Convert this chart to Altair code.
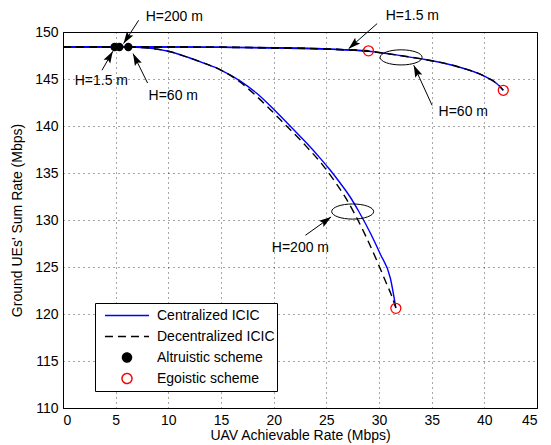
import math
import altair as alt
import pandas as pd

FONT = "Liberation Sans"
W, H = 474, 376
XMIN, XMAX, YMIN, YMAX = 0, 45, 110, 150

# ---- curve data ----
h15_x = [0, 4.9, 10, 15, 20, 25, 29.0]
h15_y = [148.4, 148.4, 148.4, 148.37, 148.3, 148.18, 148.0]

h60_x = [0, 6.2, 10, 15, 20, 25, 29.0, 32.0, 34.5, 37.5, 40.0, 41.2, 41.8]
h60_y = [148.4, 148.4, 148.4, 148.38, 148.33, 148.2, 147.95, 147.5, 147.05, 146.3, 145.3, 144.5, 143.8]

h200c_x = [0, 5.35, 7, 8.6, 10, 11.78, 13.3, 14.94, 16.84, 18.42, 20.0, 21.59, 23.17, 24.43, 25.38,
           26.33, 27.28, 28.07, 29.19, 30.13, 31.08, 31.6]
h200c_y = [148.4, 148.4, 148.37, 148.23, 147.95, 147.34, 146.72, 145.98, 144.78, 143.45, 141.78, 139.97,
           138.13, 136.56, 135.29, 133.91, 132.42, 130.93, 128.59, 126.35, 123.8, 120.64]

h200d_x = [0, 5.35, 7, 8.6, 10, 11.78, 13.3, 14.94, 16.84, 18.1, 19.37, 20.64, 22.85, 24.75, 25.86,
           26.81, 27.76, 28.71, 29.82, 30.61, 31.18, 31.6]
h200d_y = [148.4, 148.4, 148.37, 148.23, 147.95, 147.34, 146.72, 145.98, 144.65, 143.45, 142.1, 140.66,
           138.13, 135.71, 134.01, 132.41, 130.5, 128.37, 125.61, 123.5, 122.0, 120.64]

altru_x = [4.9, 5.35, 6.2]
altru_y = [148.4, 148.4, 148.4]
ego_x = [29.0, 41.8, 31.6]
ego_y = [148.0, 143.8, 120.6]

legend_names = ["Centralized ICIC", "Decentralized ICIC", "Altruistic scheme", "Egoistic scheme"]

# ---- annotations ----
label_text = ["H=200 m", "H=1.5 m", "H=60 m", "H=1.5 m", "H=60 m", "H=200 m"]
label_x = [10.57, 3.64, 10.47, 33.17, 38.0, 22.54]
label_y = [151.6, 144.76, 143.2, 151.75, 141.46, 126.99]

arrow_x0 = [7.18, 3.70, 8.03, 29.82, 35.04, 23.01]
arrow_y0 = [151.24, 145.93, 144.57, 150.89, 142.2, 128.37]
arrow_x1 = [5.75, 4.73, 6.65, 27.12, 33.3, 25.45]
arrow_y1 = [148.77, 147.95, 147.70, 148.23, 146.46, 130.32]

ellipse_x = [27.5, 32.1]
ellipse_y = [130.9, 147.3]


def curve_df(parts):
    rows = []
    for name, xs_, ys_ in parts:
        for i, (x, y) in enumerate(zip(xs_, ys_)):
            rows.append({"curve": name, "i": i, "x": x, "y": y})
    return pd.DataFrame(rows)


cent = curve_df([("h15", h15_x, h15_y), ("h60", h60_x, h60_y), ("h200", h200c_x, h200c_y)])
decent = curve_df([("h15", h15_x, h15_y), ("h60", h60_x, h60_y), ("h200", h200d_x, h200d_y)])

xs = alt.Scale(domain=[XMIN, XMAX], nice=False, zero=False)
ys = alt.Scale(domain=[YMIN, YMAX], nice=False, zero=False)

xaxis = alt.Axis(values=list(range(0, 46, 5)), title="UAV Achievable Rate (Mbps)", ticks=False,
                 labelPadding=5, titlePadding=1)
yaxis = alt.Axis(values=list(range(110, 151, 5)), title="Ground UEs' Sum Rate (Mbps)", ticks=False,
                 labelPadding=5, titlePadding=10)

X = alt.X("x:Q", scale=xs, axis=xaxis)
Y = alt.Y("y:Q", scale=ys, axis=yaxis)

base_c = alt.Chart(cent).mark_line(color="#0000ff", strokeWidth=1.4, interpolate="monotone").encode(
    x=X, y=Y, detail="curve:N", order="i:Q")
base_d = alt.Chart(decent).mark_line(color="#000000", strokeWidth=1.4, strokeDash=[8, 5],
                                     interpolate="monotone").encode(
    x=X, y=Y, detail="curve:N", order="i:Q")

altru = alt.Chart(pd.DataFrame({"x": altru_x, "y": altru_y})).mark_point(
    filled=True, color="black", size=70, opacity=1).encode(x=X, y=Y)
ego = alt.Chart(pd.DataFrame({"x": ego_x, "y": ego_y})).mark_point(
    filled=False, color="#ff0000", size=100, strokeWidth=1.3, opacity=1).encode(x=X, y=Y)

ell_path = "M-1,0A1,0.36,0,1,0,1,0A1,0.36,0,1,0,-1,0Z"
ellipses = alt.Chart(pd.DataFrame({"x": ellipse_x, "y": ellipse_y})).mark_point(
    shape=ell_path, filled=False, color="black", size=1764, strokeWidth=1, opacity=1).encode(x=X, y=Y)

# arrows
sx = W / (XMAX - XMIN)
sy = H / (YMAX - YMIN)
angles = []
for a, b, c, d in zip(arrow_x0, arrow_y0, arrow_x1, arrow_y1):
    dx = (c - a) * sx
    dy = -(d - b) * sy
    angles.append(math.degrees(math.atan2(dx, -dy)) % 360)
arr = pd.DataFrame({"x": arrow_x0, "y": arrow_y0, "x2": arrow_x1, "y2": arrow_y1, "ang": angles})

shafts = alt.Chart(arr).mark_rule(color="black", strokeWidth=1).encode(
    x=X, y=Y, x2="x2:Q", y2="y2:Q")
head_path = "M0,0L-0.32,1L0,0.82L0.32,1Z"
heads = alt.Chart(arr).mark_point(shape=head_path, filled=True, color="black", size=576, opacity=1,
                                  strokeWidth=0.5).encode(
    x=alt.X("x2:Q", scale=xs, axis=xaxis), y=alt.Y("y2:Q", scale=ys, axis=yaxis),
    angle=alt.Angle("ang:Q", scale=None))

labels = alt.Chart(pd.DataFrame({"t": label_text, "x": label_x, "y": label_y})).mark_text(
    font=FONT, fontSize=14, color="black", align="center", baseline="middle").encode(
    x=X, y=Y, text="t:N")

# legend-only layer (symbols are unit paths scaled by the legend symbol size)
line_sym = "M-0.76,0L0.76,0"
dot_sym = "M-0.155,0A0.155,0.155,0,1,0,0.155,0A0.155,0.155,0,1,0,-0.155,0Z"
ring_sym = "M-0.172,0A0.172,0.172,0,1,0,0.172,0A0.172,0.172,0,1,0,-0.172,0Z"
leg = alt.Chart(pd.DataFrame({"series": legend_names})).transform_filter("false").mark_point(
    strokeWidth=1.5, opacity=1).encode(
    color=alt.Color("series:N", scale=alt.Scale(domain=legend_names,
                    range=["#0000ff", "#000000", "#000000", "#ff0000"]), title=None,
                    legend=alt.Legend(orient="none", legendX=32, legendY=271, title=None,
                                      symbolSize=3364, clipHeight=21)),
    shape=alt.Shape("series:N", scale=alt.Scale(domain=legend_names,
                    range=[line_sym, line_sym, dot_sym, ring_sym]), title=None),
    strokeDash=alt.StrokeDash("series:N", scale=alt.Scale(domain=legend_names,
                    range=[[1, 0], [8, 5], [1, 0], [1, 0]]), title=None),
    fill=alt.Fill("series:N", scale=alt.Scale(domain=legend_names,
                    range=["transparent", "transparent", "#000000", "transparent"]), title=None),
)

chart = alt.layer(base_c, base_d, altru, ego, ellipses, shafts, heads, labels, leg).properties(
    width=W, height=H,
    padding={"left": 55, "top": 24, "right": 6, "bottom": 37},
    autosize=alt.AutoSizeParams(type="none"),
).configure_view(stroke="black", strokeWidth=1).configure_axis(
    labelFont=FONT, titleFont=FONT, labelFontSize=14, titleFontSize=14,
    labelColor="black", titleColor="black", titleFontWeight="normal",
    domainColor="black", domainWidth=1,
    grid=True, gridColor="black", gridDash=[1, 4], gridWidth=1, gridOpacity=0.7,
).configure_legend(
    strokeColor="black", fillColor="white", padding=2, cornerRadius=0,
    labelFont=FONT, labelFontSize=14, labelColor="black", labelLimit=0,
    rowPadding=0, labelOffset=0, symbolStrokeWidth=1.5,
)

chart.save("out.html", embed_options={"renderer": "svg", "actions": False})
